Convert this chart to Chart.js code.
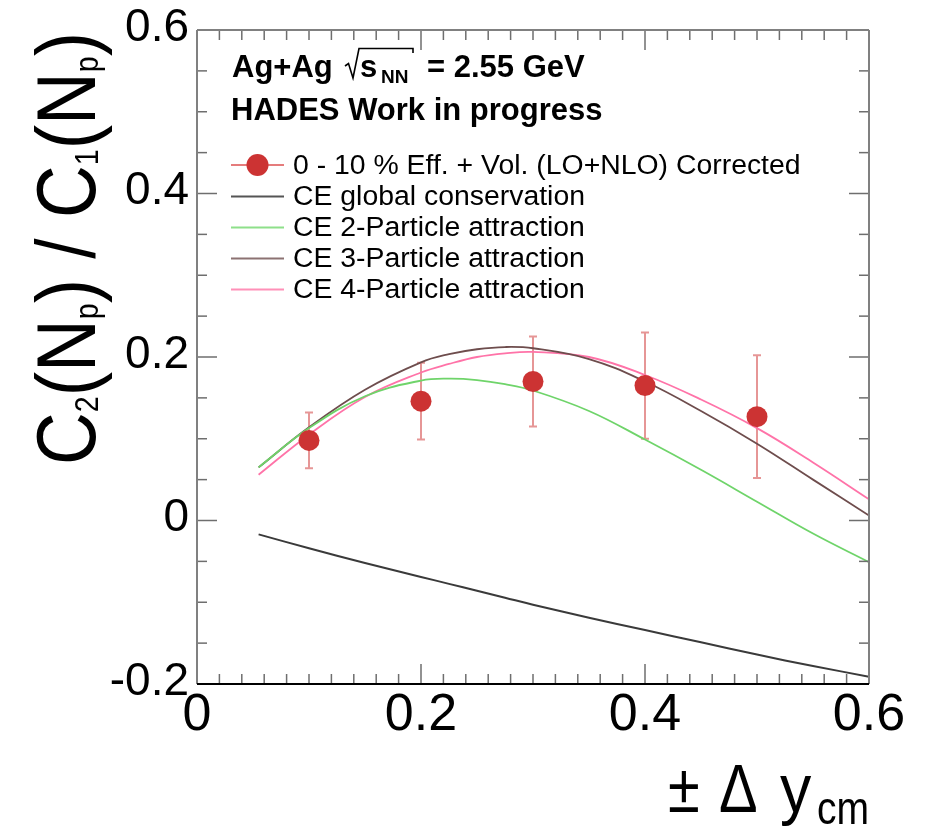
<!DOCTYPE html>
<html><head><meta charset="utf-8">
<script src="https://cdn.jsdelivr.net/npm/chart.js@4"></script>
<style>html,body{margin:0;padding:0;background:#fff;}#wrap{width:930px;height:828px;position:relative;}</style>
</head><body><div id="wrap"><canvas id="c" width="930" height="828"></canvas></div>
<script>
// ---- data ----
const dataX = [0.1, 0.2, 0.3, 0.4, 0.5];
const dataY = [0.098, 0.146, 0.170, 0.165, 0.127];
const dataErr = [0.034, 0.047, 0.055, 0.065, 0.075];
const curveX = [0.055, 0.1, 0.15, 0.2, 0.225, 0.25, 0.275, 0.3, 0.35, 0.4, 0.45, 0.5, 0.55, 0.6];
const globalY = [-0.017, -0.034, -0.052, -0.069, -0.0775, -0.086, -0.0945, -0.103, -0.119, -0.134, -0.149, -0.164, -0.178, -0.191];
const twoY = [0.065, 0.113, 0.152, 0.1712, 0.1735, 0.1718, 0.1668, 0.159, 0.134, 0.099, 0.062, 0.023, -0.016, -0.051];
const threeY = [0.065, 0.114, 0.160, 0.1935, 0.2035, 0.2095, 0.2122, 0.2107, 0.1975, 0.170, 0.134, 0.094, 0.050, 0.006];
const fourY = [0.056, 0.105, 0.151, 0.181, 0.1915, 0.200, 0.2045, 0.2062, 0.200, 0.178, 0.148, 0.113, 0.071, 0.026];
const xTickValues = [0, 0.2, 0.4, 0.6];
const yTickValues = [-0.2, 0, 0.2, 0.4, 0.6];
const labels = ['0 - 10 % Eff. + Vol. (LO+NLO) Corrected', 'CE global conservation', 'CE 2-Particle attraction', 'CE 3-Particle attraction', 'CE 4-Particle attraction'];

const FAM = "'Liberation Sans', Arial, Helvetica, sans-serif";
const toPts = (xs, ys) => xs.map((x, i) => ({x, y: ys[i]}));
const fmt = v => Math.abs(v) < 1e-9 ? '0' : v.toFixed(1);

const errorBars = {
  id: 'errorBars',
  beforeDatasetsDraw(chart) {
    const {ctx, scales: {x, y}} = chart;
    ctx.save();
    ctx.strokeStyle = 'rgba(214,80,80,0.6)';
    ctx.lineWidth = 2;
    dataX.forEach((xv, i) => {
      const px = x.getPixelForValue(xv);
      const y1 = y.getPixelForValue(dataY[i] + dataErr[i]);
      const y2 = y.getPixelForValue(dataY[i] - dataErr[i]);
      ctx.beginPath();
      ctx.moveTo(px, y1); ctx.lineTo(px, y2);
      ctx.moveTo(px - 4, y1); ctx.lineTo(px + 4, y1);
      ctx.moveTo(px - 4, y2); ctx.lineTo(px + 4, y2);
      ctx.stroke();
    });
    ctx.restore();
  }
};

function seg(ctx, x1, y1, x2, y2) { ctx.beginPath(); ctx.moveTo(x1, y1); ctx.lineTo(x2, y2); ctx.stroke(); }

function drawParts(ctx, parts, x0, y0, angle, targetLen) {
  ctx.save();
  ctx.translate(x0, y0);
  ctx.rotate(angle);
  let total = 0;
  parts.forEach(p => { ctx.font = `${p.bold ? 'bold ' : ''}${p.size}px ${FAM}`; p.w = ctx.measureText(p.t).width; total += p.w; });
  const sx = targetLen ? targetLen / total : 1;
  ctx.scale(sx, 1);
  ctx.fillStyle = '#000';
  ctx.textBaseline = 'alphabetic';
  ctx.textAlign = 'left';
  let cx = 0;
  parts.forEach(p => { ctx.font = `${p.bold ? 'bold ' : ''}${p.size}px ${FAM}`; ctx.fillText(p.t, cx, p.dy || 0); cx += p.w; });
  ctx.restore();
}

const decor = {
  id: 'decor',
  afterDraw(chart) {
    const {ctx, chartArea: a, scales: {x, y}} = chart;
    ctx.save();
    // minor / major ticks
    ctx.strokeStyle = '#6e6e6e';
    ctx.lineWidth = 1.5;
    for (let i = 0; i <= 30; i++) {
      const px = x.getPixelForValue(i * 0.02);
      const L = i % 10 === 0 ? 20 : 10;
      seg(ctx, px, a.bottom, px, a.bottom - L);
      seg(ctx, px, a.top, px, a.top + L);
    }
    for (let i = 0; i <= 16; i++) {
      const py = y.getPixelForValue(-0.2 + i * 0.05);
      const L = i % 4 === 0 ? 20 : 10;
      seg(ctx, a.left, py, a.left + L, py);
      seg(ctx, a.right, py, a.right - L, py);
    }
    // frame
    ctx.strokeStyle = '#808080';
    ctx.lineWidth = 2;
    seg(ctx, a.left, a.top, a.right, a.top);
    seg(ctx, a.left, a.top, a.left, a.bottom);
    seg(ctx, a.right, a.top, a.right, a.bottom);
    ctx.strokeStyle = '#000';
    seg(ctx, a.left, a.bottom, a.right, a.bottom);

    // header texts
    ctx.fillStyle = '#000';
    ctx.textBaseline = 'alphabetic';
    ctx.textAlign = 'left';
    ctx.font = `bold 31px ${FAM}`;
    ctx.fillText('Ag+Ag', 232, 77);
    // radical sign
    ctx.strokeStyle = '#000'; ctx.lineWidth = 1.6; ctx.lineJoin = 'miter';
    ctx.beginPath();
    ctx.moveTo(345, 66); ctx.lineTo(348.5, 63.5); ctx.lineTo(353, 78); ctx.lineTo(359, 48.5); ctx.lineTo(413, 48.5); ctx.lineTo(413, 53);
    ctx.stroke();
    ctx.font = `bold 31px ${FAM}`;
    ctx.fillText('s', 360, 77);
    ctx.font = `bold 19px ${FAM}`;
    ctx.fillText('NN', 381, 83);
    ctx.font = `bold 31px ${FAM}`;
    ctx.fillText('= 2.55 GeV', 427, 77);
    ctx.fillText('HADES Work in progress', 231, 120);

    // legend
    const rows = [165, 196.5, 227.5, 258.5, 289.5];
    const ds = chart.data.datasets;
    ctx.font = `28.4px ${FAM}`;
    ctx.textBaseline = 'middle';
    rows.forEach((ry, i) => {
      const d = ds[i];
      ctx.strokeStyle = d.legendLine;
      ctx.lineWidth = 2;
      seg(ctx, 231, ry, 284, ry);
      if (i === 0) {
        ctx.fillStyle = d.backgroundColor;
        ctx.beginPath(); ctx.arc(257.5, ry, 11, 0, Math.PI * 2); ctx.fill();
      }
      ctx.fillStyle = '#000';
      ctx.fillText(d.label, 293, ry + 1);
    });

    // y axis title
    drawParts(ctx, [
      {t: 'C', size: 84}, {t: '2', size: 33, dy: 3}, {t: '(N', size: 84}, {t: 'p', size: 33, dy: 3},
      {t: ') / C', size: 84}, {t: '1', size: 33, dy: 3}, {t: '(N', size: 84}, {t: 'p', size: 33, dy: 3}, {t: ')', size: 84}
    ], 95, 465, -Math.PI / 2, 433);

    // x axis title
    ctx.textBaseline = 'alphabetic';
    const xs = (t, px, py, size, sx) => { ctx.save(); ctx.translate(px, py); ctx.scale(sx, 1); ctx.font = `${size}px ${FAM}`; ctx.fillText(t, 0, 0); ctx.restore(); };
    xs('\u00B1', 668, 812, 68, 0.85);
    xs('\u0394', 719, 812, 68, 0.85);
    xs('y', 780, 812, 68, 0.92);
    xs('cm', 817, 824, 46, 0.85);
    ctx.restore();
  }
};

const commonLine = {showLine: true, pointRadius: 0, pointHoverRadius: 0, fill: false, tension: 0.4, cubicInterpolationMode: 'default'};

new Chart(document.getElementById('c'), {
  type: 'line',
  data: {
    datasets: [
      {label: labels[0], data: toPts(dataX, dataY), showLine: false, pointRadius: 10.5, pointHoverRadius: 10.5,
       backgroundColor: '#cc3333', borderColor: '#cc3333', borderWidth: 0, legendLine: 'rgba(220,80,80,0.75)'},
      Object.assign({label: labels[1], data: toPts(curveX, globalY), borderColor: '#3a3a3a', borderWidth: 2, legendLine: '#555555'}, commonLine),
      Object.assign({label: labels[2], data: toPts(curveX, twoY), borderColor: '#6fd46a', borderWidth: 1.8, legendLine: '#8ee08a'}, commonLine),
      Object.assign({label: labels[3], data: toPts(curveX, threeY), borderColor: '#6e4d4d', borderWidth: 1.8, legendLine: '#8c7272'}, commonLine),
      Object.assign({label: labels[4], data: toPts(curveX, fourY), borderColor: '#ff73a8', borderWidth: 1.8, legendLine: '#ff90b8'}, commonLine)
    ]
  },
  options: {
    responsive: false,
    animation: false,
    devicePixelRatio: 1,
    layout: {padding: {left: 0, right: 61, top: 30, bottom: 0}},
    plugins: {legend: {display: false}, tooltip: {enabled: false}, title: {display: false}},
    scales: {
      x: {
        type: 'linear', min: 0, max: 0.6,
        afterBuildTicks: s => { s.ticks = xTickValues.map(v => ({value: v})); },
        afterFit: s => { s.height = 144; s.paddingLeft = 0; s.paddingRight = 0; },
        grid: {display: false, drawTicks: false},
        border: {display: false},
        ticks: {font: {family: FAM, size: 52}, color: '#000', padding: 0, maxRotation: 0, autoSkip: false, callback: v => fmt(v)}
      },
      y: {
        type: 'linear', min: -0.2, max: 0.6,
        afterBuildTicks: s => { s.ticks = yTickValues.map(v => ({value: v})); },
        afterFit: s => { s.width = 197; s.paddingTop = 0; s.paddingBottom = 0; },
        grid: {display: false, drawTicks: false},
        border: {display: false},
        ticks: {font: {family: FAM, size: 46}, color: '#000', padding: 8, labelOffset: -2, autoSkip: false, callback: v => fmt(v)}
      }
    }
  },
  plugins: [errorBars, decor]
});
</script></body></html>
